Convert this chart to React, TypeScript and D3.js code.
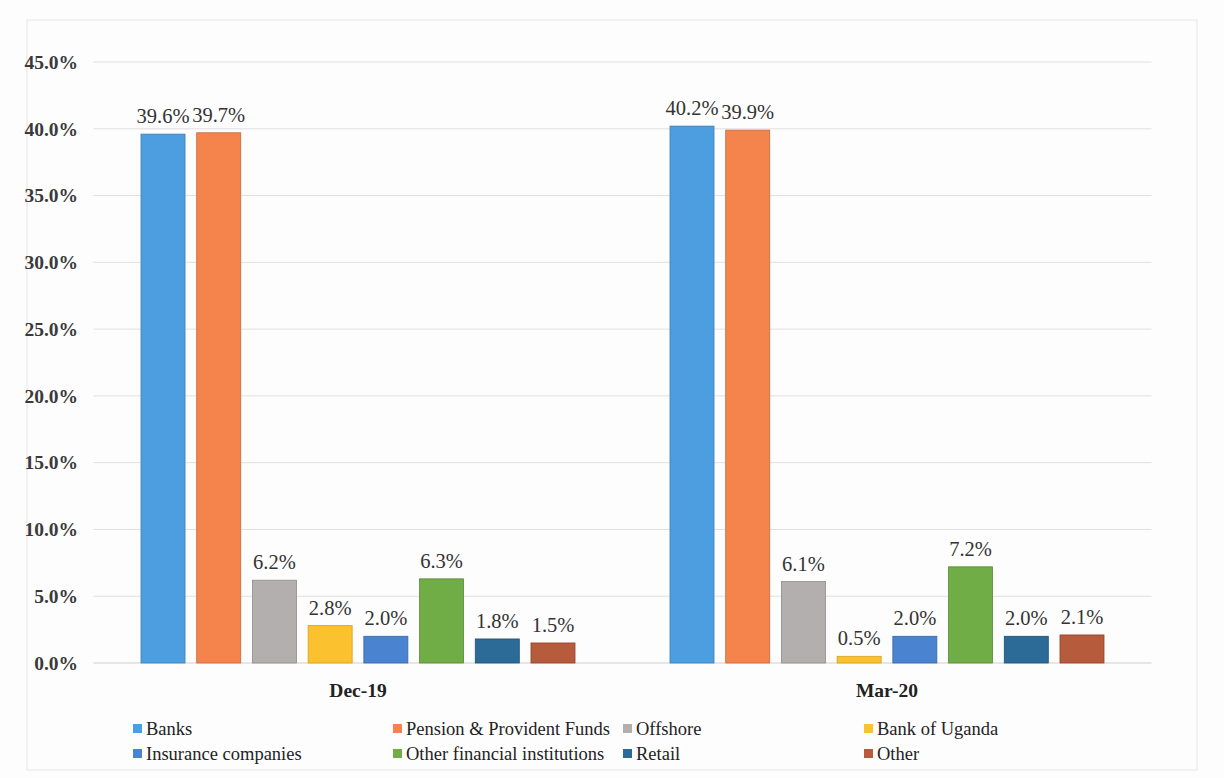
import React from "react";
import * as d3 from "d3";

const categories = ["Dec-19", "Mar-20"];
const seriesNames = [
  "Banks",
  "Pension & Provident Funds",
  "Offshore",
  "Bank of Uganda",
  "Insurance companies",
  "Other financial institutions",
  "Retail",
  "Other",
];
const dec19 = [39.6, 39.7, 6.2, 2.8, 2.0, 6.3, 1.8, 1.5];
const mar20 = [40.2, 39.9, 6.1, 0.5, 2.0, 7.2, 2.0, 2.1];
const seriesColors = ["#4c9ee0", "#f4844c", "#b3afaf", "#fcc12e", "#4a83cf", "#70ad47", "#2c6b98", "#b65c3c"];
const strokeColors = ["#3a7fb8", "#c8663a", "#8f8b8b", "#d49e20", "#3865a8", "#568a36", "#1f4e70", "#8c4229"];
const yTicks = [0, 5, 10, 15, 20, 25, 30, 35, 40, 45];

const W = 1224;
const H = 778;
const plotLeft = 93.5;
const plotRight = 1151.5;
const plotTop = 62;
const plotBottom = 663;

const serif = '"Liberation Serif", "DejaVu Serif", serif';
const tStyle = { fontFamily: serif };

export default function App() {
  const values = [dec19, mar20];
  const x0 = d3.scaleBand<string>().domain(categories).range([plotLeft, plotRight]).padding(0);
  const bw0 = x0.bandwidth();
  const x1 = d3
    .scaleBand<string>()
    .domain(seriesNames)
    .range([47.5, bw0 - 47.5])
    .paddingInner(0.21)
    .paddingOuter(0);
  const y = d3.scaleLinear().domain([0, 45]).range([plotBottom, plotTop]);

  const legendCols = [137, 397, 627, 868];
  const legendRows = [729, 754];

  return (
    <svg
      width={W}
      height={H}
      style={{ position: "absolute", left: 0, top: 0, background: "#fdfdfd" }}
    >
      <rect x={27} y={20} width={1170} height={750} fill="none" stroke="#e6e6e6" />
      {yTicks.map((t) => (
        <g key={t}>
          <line
            x1={plotLeft}
            x2={plotRight}
            y1={y(t)}
            y2={y(t)}
            stroke={t === 0 ? "#cfcfcf" : "#e2dede"}
            strokeWidth={1}
          />
          <text
            x={78}
            y={y(t)}
            dy="0.35em"
            textAnchor="end"
            fontSize={19.5}
            fontWeight="bold"
            fill="#3a3a3a"
            style={tStyle}
          >
            {t.toFixed(1)}%
          </text>
        </g>
      ))}
      {categories.map((c, ci) => (
        <g key={c} transform={`translate(${x0(c)},0)`}>
          {seriesNames.map((s, si) => {
            const v = values[ci][si];
            const bx = x1(s)!;
            return (
              <g key={s}>
                <rect
                  x={bx}
                  y={y(v)}
                  width={x1.bandwidth()}
                  height={plotBottom - y(v)}
                  fill={seriesColors[si]}
                  stroke={strokeColors[si]}
                  strokeWidth={0.8}
                />
                <text
                  x={bx + x1.bandwidth() / 2}
                  y={y(v) - 11}
                  textAnchor="middle"
                  fontSize={20.5}
                  fill="#333"
                  style={tStyle}
                >
                  {v.toFixed(1)}%
                </text>
              </g>
            );
          })}
          <text
            x={bw0 / 2}
            y={697}
            textAnchor="middle"
            fontSize={19.5}
            fontWeight="bold"
            fill="#222"
            style={tStyle}
          >
            {c}
          </text>
        </g>
      ))}
      {seriesNames.map((s, i) => {
        const col = i % 4;
        const row = Math.floor(i / 4);
        const lx = legendCols[col];
        const ly = legendRows[row];
        return (
          <g key={s}>
            <rect x={lx - 4} y={ly - 5} width={9} height={9} fill={seriesColors[i]} />
            <text x={lx + 9} y={ly} dy="0.35em" fontSize={18.5} fill="#222" style={tStyle}>
              {s}
            </text>
          </g>
        );
      })}
    </svg>
  );
}
